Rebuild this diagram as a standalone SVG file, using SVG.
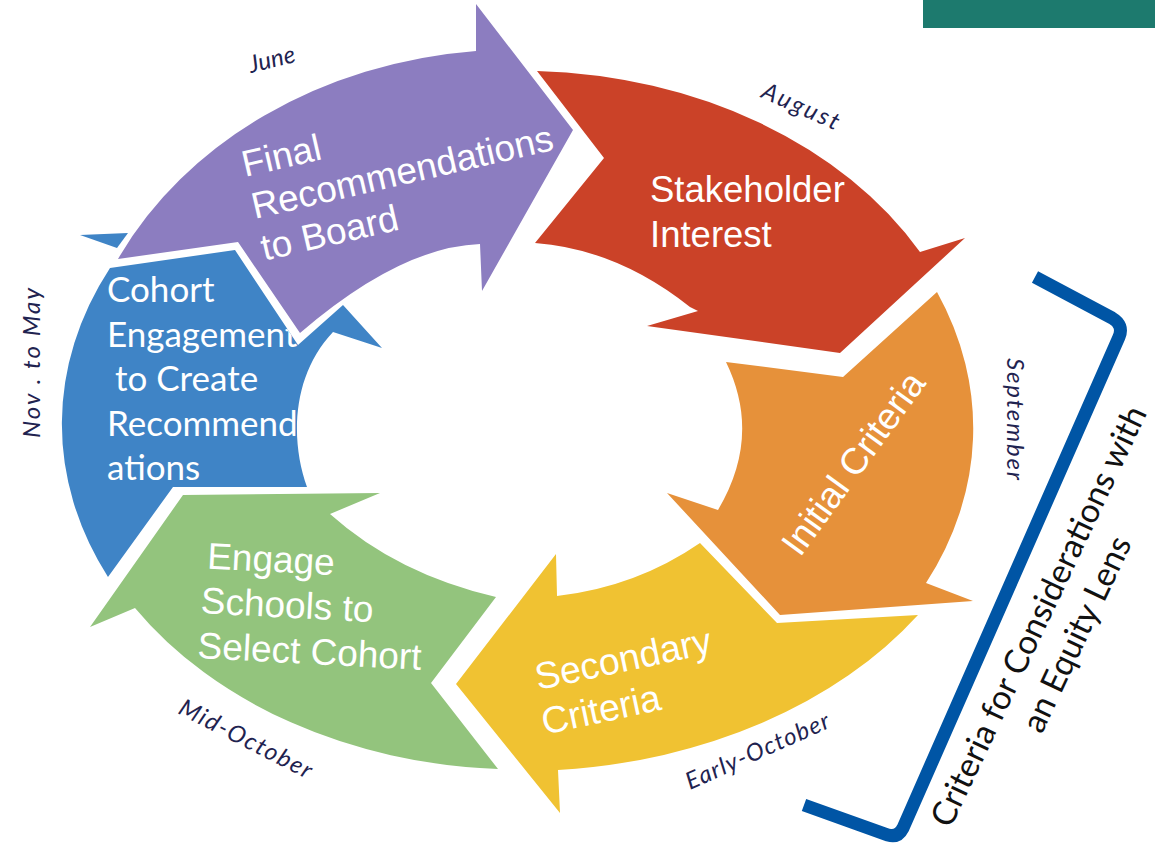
<svg xmlns="http://www.w3.org/2000/svg" width="1155" height="849" viewBox="0 0 1155 849">
<style>
.lbl{font-family:"Liberation Sans",Arial,sans-serif;font-size:36.5px;fill:#ffffff}
.lbl2{font-family:Lato,"Open Sans",sans-serif;font-size:35px;fill:#ffffff}
.mon{font-family:Lato,"Open Sans",sans-serif;font-style:italic;font-size:24px;fill:#1F2350}
.eq{font-family:Lato,"Open Sans",sans-serif;font-size:33.5px;fill:#111111}
.purple{fill:#8C7DC0}.red{fill:#CB4228}.orange{fill:#E6913A}.yellow{fill:#F0C232}.green{fill:#93C47D}.blue{fill:#3F84C6}
</style>
<defs>
<clipPath id="blueclip"><path d="M110,268 L235,250 L298,345 L343,305 L382,348 L333,332 C292,375 290,440 307,487 L173,487 L108,577 A456,349 0 0 1 110,268 Z"/></clipPath>
</defs>
<rect x="923" y="0" width="232" height="28" fill="#1D7A6E"/>

<g id="node-blue">
<path class="blue" d="M80,235 L128,233 L117,248 Z"/>
<path class="blue" d="M110,268 L235,250 L298,345 L343,305 L382,348 L333,332 C292,375 290,440 307,487 L173,487 L108,577 A456,349 0 0 1 110,268 Z"/>
<g clip-path="url(#blueclip)">
<text class="lbl2"><tspan x="107" y="302">Cohort</tspan><tspan x="107" y="347">Engagement</tspan><tspan x="115" y="391">to Create</tspan><tspan x="107" y="436">Recommend</tspan><tspan x="107" y="480">ations</tspan></text>
</g>
</g>

<g id="node-purple">
<path class="purple" d="M118,259 L238,242 L300,333 Q400,247 480,244 L482,291 L573,130 L476,4 L476,51 A443,372 0 0 0 118,259 Z"/>
<text class="lbl" style="font-size:37px" transform="translate(245,177) rotate(-13)"><tspan x="0" y="0">Final</tspan><tspan x="0" y="43">Recommendations</tspan><tspan x="0" y="86">to Board</tspan></text>
</g>

<g id="node-red">
<path class="red" d="M537,71 L604,158 L535,243 Q617,249 690,307 L698,311 L647,326 L840,353 L965,238 L920,252 A456,349 0 0 0 537,71 Z"/>
<text class="lbl"><tspan x="650" y="202">Stakeholder</tspan><tspan x="650" y="247">Interest</tspan></text>
</g>

<g id="node-orange">
<path class="orange" d="M726,362 L843,377 L937,292 A456,349 0 0 1 926,583 L973,601 L780,615 L667,493 L718,510 Q762,436 726,362 Z"/>
<text class="lbl" style="font-size:37px" transform="translate(800,558) rotate(-54)">Initial Criteria</text>
</g>

<g id="node-yellow">
<path class="yellow" d="M918,615 L777,623 L700,543 Q636,587 557,596 L556,554 L456,684 L560,813 L558,770 A478,350 0 0 0 918,615 Z"/>
<text class="lbl" style="font-size:37.5px" transform="translate(538,690) rotate(-12)"><tspan x="0" y="0">Secondary</tspan><tspan x="-3" y="45">Criteria</tspan></text>
</g>

<g id="node-green">
<path class="green" d="M90,627 L183,495 L380,493 L330,514 Q397,574 496,597 L431,683 L498,769 A456,349 0 0 1 135,608 Z"/>
<text class="lbl" style="font-size:37px" transform="translate(197,658) rotate(3)"><tspan x="5" y="-90">Engage</tspan><tspan x="1" y="-45">Schools to</tspan><tspan x="0" y="0">Select Cohort</tspan></text>
</g>

<g id="months">
<text class="mon" transform="translate(251,73) rotate(-14)" textLength="47" lengthAdjust="spacing">June</text>
<text class="mon" transform="translate(760,97) rotate(24)" textLength="82" lengthAdjust="spacing">August</text>
<text class="mon" transform="translate(1007,358) rotate(90)" textLength="122" lengthAdjust="spacing">September</text>
<text class="mon" transform="translate(690,790) rotate(-24)" textLength="155" lengthAdjust="spacing">Early-October</text>
<text class="mon" transform="translate(177,713) rotate(27)" textLength="146" lengthAdjust="spacing">Mid-October</text>
<text class="mon" transform="translate(40,438) rotate(-90)" textLength="150" lengthAdjust="spacing">Nov . to May</text>
</g>

<g id="bracket">
<path d="M1035,277 L1112,318 Q1124,325 1119,337 L903,828 Q898,838 888,835 L804,805" fill="none" stroke="#0055A5" stroke-width="13"/>
<g transform="translate(1049,621) rotate(-64.7)">
<text class="eq" x="0" y="0" text-anchor="middle">Criteria for Considerations with</text>
<text class="eq" x="0" y="42" text-anchor="middle">an Equity Lens</text>
</g>
</g>
</svg>
